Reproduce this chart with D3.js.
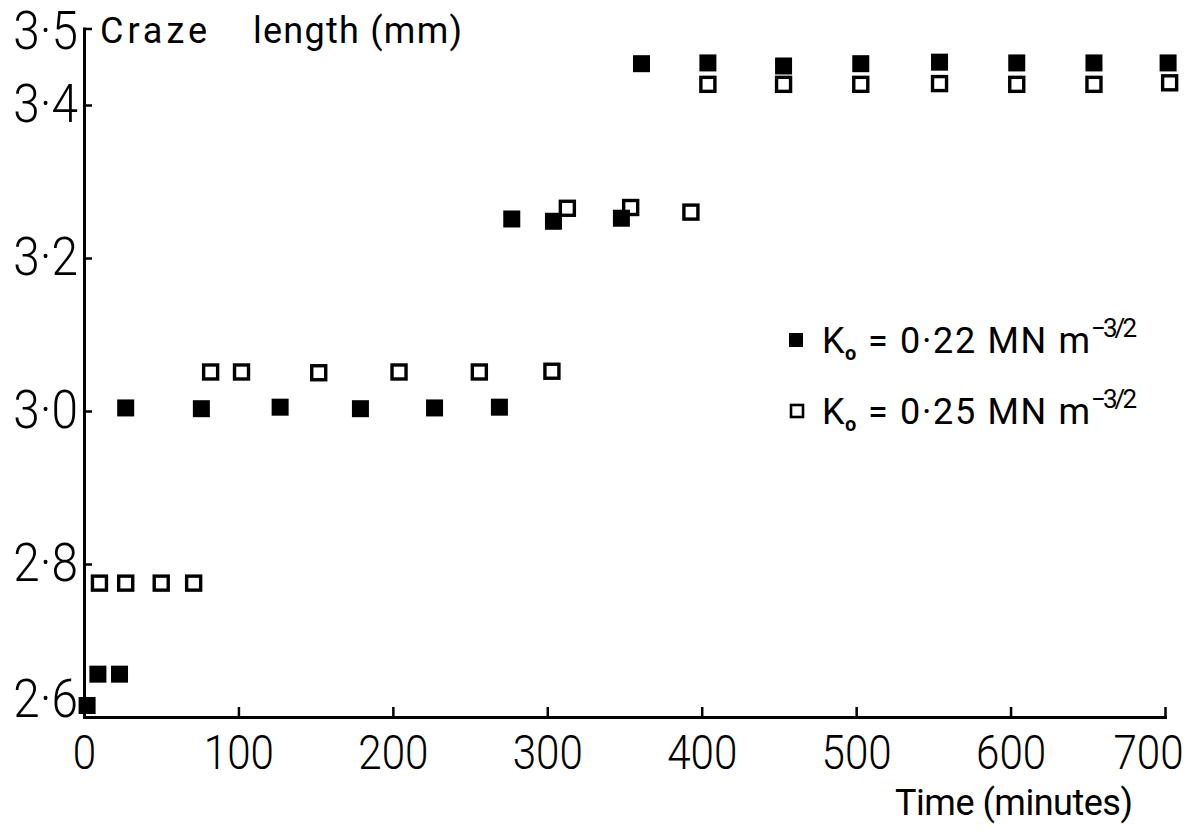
<!DOCTYPE html>
<html>
<head>
<meta charset="utf-8">
<script src="https://cdn.jsdelivr.net/npm/d3@7"></script>
<style>
  html, body { margin: 0; padding: 0; background: #fff; }
  svg { display: block; background: #fff; }
  text { font-family: Roboto, "DejaVu Sans", sans-serif; font-weight: 400; fill: #000; }
</style>
</head>
<body>
<svg id="chart" width="1198" height="831"></svg>
<script>
// Axis ticks
const timeTicks = [0, 100, 200, 300, 400, 500, 600, 700];
const lengthTicks = [2.6, 2.8, 3.0, 3.2, 3.4, 3.5];

// K0 = 0.22 MN m^-3/2 (filled squares)
const timeK022 = [2, 9, 23, 27, 76, 127, 179, 227, 269, 277, 304, 348, 361, 404, 453, 503, 554, 604, 654, 702];
const lengthK022 = [2.615, 2.656, 2.656, 3.004, 3.003, 3.005, 3.003, 3.004, 3.005, 3.251, 3.248, 3.252,
                    3.454, 3.455, 3.451, 3.454, 3.456, 3.455, 3.455, 3.455];

// K0 = 0.25 MN m^-3/2 (open squares)
const timeK025 = [10, 27, 50, 71, 82, 102, 152, 204, 256, 303, 313, 354, 393, 404, 453, 503, 554, 604, 654, 703];
const lengthK025 = [2.775, 2.775, 2.775, 2.775, 3.051, 3.051, 3.050, 3.051, 3.051, 3.052, 3.265, 3.266, 3.260,
                    3.427, 3.427, 3.427, 3.428, 3.427, 3.427, 3.429];

const legendValues = ["0·22", "0·25"];
const yTitle = ["Craze", "length (mm)"];
const xTitle = "Time (minutes)";

const svg = d3.select("#chart");
const x = d3.scaleLinear().domain([0, 700]).range([84, 1165]);
const y = d3.scaleLinear().domain([2.6, 3.5]).range([717, 28.5]);
const fmtLen = d => d3.format(".1f")(d).replace(".", "·");

// narrow the glyphs a little, like a condensed drafting face
function condense(sel, k) {
  sel.each(function () {
    const w = this.getComputedTextLength();
    d3.select(this).attr("textLength", w * k).attr("lengthAdjust", "spacingAndGlyphs");
  });
}
// stretch a label to a set width by opening up the letter spacing
function spread(sel, w) {
  sel.attr("textLength", w).attr("lengthAdjust", "spacing");
}

// x axis
const gx = svg.append("g")
  .attr("transform", `translate(0,${y(2.6)})`)
  .call(d3.axisBottom(x).tickValues(timeTicks).tickSize(-10).tickSizeOuter(0)
        .tickPadding(17).tickFormat(d3.format("d")))
  .attr("font-size", 49).attr("font-family", null);
gx.select(".domain").attr("stroke-width", 3).attr("stroke-linecap", "square");
gx.selectAll(".tick line").attr("stroke-width", 2.5);
gx.selectAll(".tick text").filter(d => d === 700).attr("dx", -17);
gx.selectAll(".tick text").style("font-weight", 300);
condense(gx.selectAll(".tick text"), 0.86);

// y axis
const gy = svg.append("g")
  .attr("transform", `translate(${x(0)},0)`)
  .call(d3.axisLeft(y).tickValues(lengthTicks).tickSize(-8).tickSizeOuter(0)
        .tickPadding(6).tickFormat(fmtLen))
  .attr("font-size", 53).attr("font-family", null);
gy.select(".domain").attr("stroke-width", 3).attr("stroke-linecap", "square");
gy.selectAll(".tick line").attr("stroke-width", 2.5);
gy.selectAll(".tick text").filter(d => d === 2.6).attr("y", -17);
gy.selectAll(".tick text").filter(d => d === 3.5).attr("y", 3);
gy.selectAll(".tick text").style("font-weight", 300);
condense(gy.selectAll(".tick text"), 0.9);

// axis titles
svg.append("text").attr("x", 100).attr("y", 43).attr("font-size", 36)
  .text(yTitle[0]).call(spread, 107);
svg.append("text").attr("x", 253).attr("y", 43).attr("font-size", 36)
  .text(yTitle[1]).call(spread, 209);
svg.append("text").attr("x", 895).attr("y", 815).attr("font-size", 36)
  .text(xTitle).call(spread, 238);

// data: open squares first, filled on top
const open = timeK025.map((t, i) => ({ t, v: lengthK025[i] }));
const filled = timeK022.map((t, i) => ({ t, v: lengthK022[i] }));

svg.append("g").selectAll("rect").data(open).join("rect")
  .attr("x", d => x(d.t) - 7).attr("y", d => y(d.v) - 7)
  .attr("width", 14).attr("height", 14)
  .attr("fill", "#fff").attr("stroke", "#000").attr("stroke-width", 3.4);

svg.append("g").selectAll("rect").data(filled).join("rect")
  .attr("x", d => x(d.t) - 8.5).attr("y", d => y(d.v) - 8.5)
  .attr("width", 17).attr("height", 17)
  .attr("fill", "#000");

// legend
const legend = svg.append("g");
legendValues.forEach((v, i) => {
  const cy = 340 + i * 71;
  if (i === 0) {
    legend.append("rect").attr("x", 789).attr("y", cy - 7).attr("width", 14).attr("height", 14).attr("fill", "#000");
  } else {
    legend.append("rect").attr("x", 791).attr("y", cy - 6).attr("width", 12).attr("height", 12)
      .attr("fill", "#fff").attr("stroke", "#000").attr("stroke-width", 2.6);
  }
  const base = cy + 13;
  legend.append("text").attr("x", 822).attr("y", base).attr("font-size", 36).text("K");
  legend.append("text").attr("x", 845).attr("y", base + 7).attr("font-size", 20)
    .style("font-weight", 700).text("o");
  legend.append("text").attr("x", 868).attr("y", base).attr("font-size", 36)
    .text(`= ${v} MN m`).call(spread, 222);
  legend.append("text").attr("x", 1091).attr("y", base - 16).attr("font-size", 26)
    .text("−3/2").call(spread, 46);
});
</script>
</body>
</html>
